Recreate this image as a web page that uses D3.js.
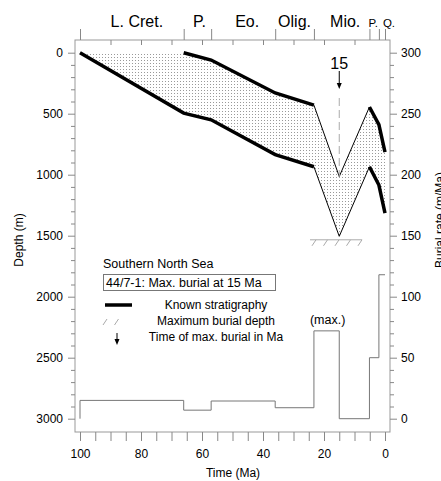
<!DOCTYPE html>
<html>
<head>
<meta charset="utf-8">
<script src="https://cdn.jsdelivr.net/npm/d3@7"></script>
<style>
    body { margin: 0; background: #fff; }
    svg text { font-family: "Liberation Sans", Arial, Helvetica, sans-serif; fill: #000; }
    .axis path.domain { display: none; }
    .axis line { stroke: #888; }
</style>
</head>
<body>
<div id="chart"></div>
<script>
// DATA
const epochNames = ["L. Cret.", "P.", "Eo.", "Olig.", "Mio.", "P.", "Q."];
const epochBounds = [100, 66, 57, 36, 23.3, 5.1, 2, 0];

// burial curves (age in Ma, depth in m)
const ages = [100, 66, 57, 36, 23.3, 15, 5.1, 2, 0];
const topDepth = [0, 0, 60, 330, 430, 1015, 445, 590, 815];
const baseDepth = [0, 495, 550, 835, 935, 1505, 935, 1085, 1315];

// burial rate steps (start age of each step, m/Ma)
const rateAges = [100, 66, 57, 36, 23.3, 15, 5.1, 2];
const rates = [15, 7, 14.5, 9, 72, 0, 50, 118];

const maxBurialAge = 15;
const maxBurialDepth = 1505;

// SET WIDTH, HEIGHT & FRAME
const width = 441;
const height = 481;
const frame = { left: 75, right: 390, top: 40, bottom: 432 };
// small nudges for the epoch labels (px)
const epochShift = [5, 2, 4, 0, 3.5, -1, 7];

// SCALES
const x = d3.scaleLinear().domain([100, 0]).range([80, 385]);
const y = d3.scaleLinear().domain([0, 3000]).range([52.7, 418.7]);
const yRate = d3.scaleLinear().domain([0, 300]).range([418.7, 52.7]);

// SETUP SVG
const svg = d3.select("#chart")
    .append("svg")
    .attr("width", width)
    .attr("height", height);

// STIPPLE PATTERN FOR FILL
const defs = svg.append("defs");
const pat = defs.append("pattern")
    .attr("id", "dots")
    .attr("patternUnits", "userSpaceOnUse")
    .attr("width", 3)
    .attr("height", 3);
pat.append("rect")
    .attr("width", 1).attr("height", 1)
    .attr("fill", "#999");

// FRAME
svg.append("rect")
    .attr("x", frame.left)
    .attr("y", frame.top)
    .attr("width", frame.right - frame.left)
    .attr("height", frame.bottom - frame.top)
    .attr("fill", "none")
    .attr("stroke", "#999");

// LEFT AXIS (DEPTH)
const gLeft = svg.append("g")
    .attr("class", "axis")
    .attr("transform", "translate(" + frame.left + ",0)")
    .call(d3.axisLeft(y)
        .tickValues(d3.range(0, 3001, 100))
        .tickSize(7).tickPadding(5)
        .tickFormat(d => d % 500 === 0 ? d : ""));
gLeft.selectAll(".tick").filter(d => d % 500 !== 0).select("line").attr("x2", -4);

// RIGHT AXIS (BURIAL RATE)
const gRight = svg.append("g")
    .attr("class", "axis")
    .attr("transform", "translate(" + frame.right + ",0)")
    .call(d3.axisRight(yRate)
        .tickValues(d3.range(0, 301, 10))
        .tickSize(7).tickPadding(4)
        .tickFormat(d => d % 50 === 0 ? d : ""));
gRight.selectAll(".tick").filter(d => d % 50 !== 0).select("line").attr("x2", 4);

// BOTTOM AXIS (TIME)
svg.append("g")
    .attr("class", "axis")
    .attr("transform", "translate(0," + frame.bottom + ")")
    .call(d3.axisBottom(x)
        .tickValues(d3.range(0, 101, 5))
        .tickSize(9).tickPadding(8)
        .tickFormat(d => d % 20 === 0 ? d : ""));

// TOP: INWARD TICKS + EPOCH BOUNDARIES
svg.append("g")
    .attr("class", "axis")
    .attr("transform", "translate(0," + frame.top + ")")
    .call(d3.axisTop(x).tickValues(d3.range(10, 100, 10)).tickSize(-5).tickFormat(""));
svg.append("g")
    .attr("class", "axis")
    .attr("transform", "translate(0," + frame.top + ")")
    .call(d3.axisTop(x).tickValues(epochBounds).tickSize(11).tickFormat(""))
    .selectAll("line").attr("stroke", "#555");

svg.selectAll(".epoch")
    .data(epochNames)
    .enter().append("text")
    .attr("class", "epoch")
    .attr("x", (d, i) => (x(epochBounds[i]) + x(epochBounds[i + 1])) / 2 + epochShift[i])
    .attr("y", 27)
    .attr("text-anchor", "middle")
    .style("font-size", (d, i) => i >= 5 ? "11.5px" : "16px")
    .text(d => d);

svg.selectAll(".axis text").style("font-size", "12px");

// AXIS TITLES
svg.append("text")
    .attr("transform", "translate(23,240) rotate(-90)")
    .attr("text-anchor", "middle")
    .style("font-size", "12px")
    .text("Depth (m)");
svg.append("text")
    .attr("x", 233).attr("y", 477)
    .attr("text-anchor", "middle")
    .style("font-size", "12px")
    .text("Time (Ma)");
svg.append("text")
    .attr("transform", "translate(444,220) rotate(-90)")
    .attr("text-anchor", "middle")
    .style("font-size", "12px")
    .text("Burial rate (m/Ma)");

// BURIAL RATE STEP LINE
const ratePts = [[100, 0]].concat(rateAges.map((a, i) => [a, rates[i]]), [[0, rates[rates.length - 1]]]);
svg.append("path")
    .attr("d", d3.line()
        .x(d => x(d[0]))
        .y(d => yRate(d[1]))
        .curve(d3.curveStepAfter)(ratePts))
    .attr("fill", "none")
    .attr("stroke", "#777")
    .attr("stroke-width", 1);

// STIPPLED AREA BETWEEN CURVES
svg.append("path")
    .attr("d", d3.area()
        .x((d, i) => x(ages[i]))
        .y0((d, i) => y(baseDepth[i]))
        .y1((d, i) => y(topDepth[i]))(ages))
    .attr("fill", "url(#dots)");

// CURVE SEGMENTS
const line = d3.line().x(d => x(d[0])).y(d => y(d[1]));
function seg(depths, from, to) {
    return ages.slice(from, to + 1).map((a, i) => [a, depths[from + i]]);
}
const thinSegs = [seg(topDepth, 4, 6), seg(baseDepth, 4, 6)];
const thickSegs = [seg(topDepth, 1, 4), seg(baseDepth, 0, 4), seg(topDepth, 6, 8), seg(baseDepth, 6, 8)];

svg.selectAll(".thin")
    .data(thinSegs)
    .enter().append("path")
    .attr("d", line)
    .attr("fill", "none")
    .attr("stroke", "#000")
    .attr("stroke-width", 1);

svg.selectAll(".thick")
    .data(thickSegs)
    .enter().append("path")
    .attr("d", line)
    .attr("fill", "none")
    .attr("stroke", "#000")
    .attr("stroke-width", 3.5);

// MAX BURIAL MARKER (DASHED LINE, ARROW, LABEL)
const mx = x(maxBurialAge);
svg.append("line")
    .attr("x1", mx).attr("x2", mx)
    .attr("y1", 98).attr("y2", y(topDepth[5]))
    .attr("stroke", "#aaa")
    .attr("stroke-dasharray", "8,4");

function arrowDown(g, ax, y1, y2) {
    g.append("line")
        .attr("x1", ax).attr("x2", ax)
        .attr("y1", y1).attr("y2", y2 - 5)
        .attr("stroke", "#000");
    g.append("path")
        .attr("d", "M" + (ax - 2.5) + "," + (y2 - 6) + "L" + (ax + 2.5) + "," + (y2 - 6) + "L" + ax + "," + y2 + "Z")
        .attr("fill", "#000");
}
arrowDown(svg, mx, 71, 89);

svg.append("text")
    .attr("x", mx).attr("y", 69)
    .attr("text-anchor", "middle")
    .style("font-size", "16px")
    .text(maxBurialAge);

// HATCH AT MAXIMUM BURIAL DEPTH
function hatch(g, x1, x2, hy, withLine) {
    if (withLine) {
        g.append("line")
            .attr("x1", x1).attr("x2", x2)
            .attr("y1", hy).attr("y2", hy)
            .attr("stroke", "#aaa");
    }
    for (let hx = x1 + 6; hx <= x2; hx += 11.5) {
        g.append("line")
            .attr("x1", hx - 4).attr("x2", hx)
            .attr("y1", hy + 6).attr("y2", hy)
            .attr("stroke", "#aaa");
    }
}
hatch(svg, 310, 362, y(maxBurialDepth) + 3.5, true);

// (max.) LABEL
svg.append("text")
    .attr("x", (x(23.3) + x(15)) / 2 + 1)
    .attr("y", 324)
    .attr("text-anchor", "middle")
    .style("font-size", "12.5px")
    .text("(max.)");

// LEGEND
const legend = svg.append("g");
legend.append("text")
    .attr("x", 103).attr("y", 268)
    .style("font-size", "12.5px")
    .text("Southern North Sea");
legend.append("rect")
    .attr("x", 103.5).attr("y", 274.5)
    .attr("width", 172).attr("height", 16)
    .attr("fill", "none")
    .attr("stroke", "#777");
legend.append("text")
    .attr("x", 106).attr("y", 287)
    .style("font-size", "12.5px")
    .text("44/7-1: Max. burial at 15 Ma");

legend.append("line")
    .attr("x1", 105).attr("x2", 132)
    .attr("y1", 305).attr("y2", 305)
    .attr("stroke", "#000")
    .attr("stroke-width", 3.5);
hatch(legend, 101, 128, 319, false);
arrowDown(legend, 117, 333, 345);

const legendLabels = ["Known stratigraphy", "Maximum burial depth", "Time of max. burial in Ma"];
legend.selectAll(".lab")
    .data(legendLabels)
    .enter().append("text")
    .attr("x", 216)
    .attr("y", (d, i) => 309 + i * 16)
    .attr("text-anchor", "middle")
    .style("font-size", "12px")
    .text(d => d);
</script>
</body>
</html>
